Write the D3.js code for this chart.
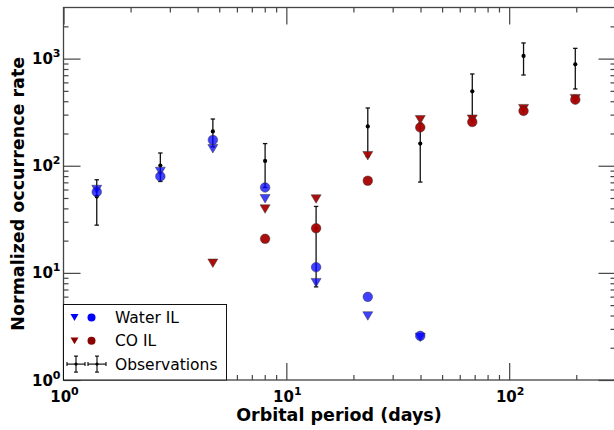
<!DOCTYPE html>
<html>
<head>
<meta charset="utf-8">
<script src="https://cdn.jsdelivr.net/npm/d3@7"></script>
<style>
    body { margin: 0; background: #fff; }
    svg { font-family: 'DejaVu Sans', sans-serif; }
</style>
</head>
<body>
<div id="chart"></div>
<script>
// values
const periods = [1.41, 2.72, 4.68, 8.03, 13.6, 23.2, 39.9, 68.3, 116, 198];
const obsRate = [51.6, 100.5, 209, 111, 26, 233, 161, 495, 1059, 885];
const obsLow = [27.9, 71.3, 150, 62.7, 7.4, 122, 70.4, 289, 703, 521];
const obsHigh = [74, 131.5, 273, 161, 41.7, 346, 250, 719, 1400, 1247];
const waterTri = [60, 88.5, 144, 49.2, 8.1, 3.96, 2.5, null, null, null];
const waterCirc = [57, 79.5, 174, 62.7, 11.3, 5.97, 2.58, null, null, null];
const coTri = [null, null, 12.3, 39.4, 48.9, 124, 269, 272, 341, 423];
const coCirc = [null, null, null, 20.8, 26.1, 72.4, 228, 256, 325, 414];
const xMajor = [1, 10, 100];
const yMajor = [1, 10, 100, 1000];
const legendLabels = ['Water IL', 'CO IL', 'Observations'];

const width = 614,
    height = 430;
const margin = { top: 7.5, right: -1.5, bottom: 50, left: 63.5 };

const svg = d3
    .select('#chart')
    .append('svg')
    .attr('width', width)
    .attr('height', height);

const x = d3
    .scaleLog()
    .domain([1, 300])
    .range([margin.left, width - margin.right]);
const y = d3
    .scaleLog()
    .domain([1, 3000])
    .range([height - margin.bottom, margin.top]);

const x0 = x.range()[0],
    x1 = x.range()[1],
    yb = y.range()[0],
    yt = y.range()[1];

const minorOf = (lo, hi) => {
    const out = [];
    for (let d = lo; d < hi; d *= 10) {
        for (let k = 2; k <= 9; k++) if (d * k < hi) out.push(d * k);
    }
    return out;
};
const xMinor = minorOf(1, 300);
const yMinor = minorOf(1, 3000);

// ticks (inward, on all four sides)
const tickColor = '#444';
const axisStyle = (g) => {
    g.select('.domain').remove();
    g.selectAll('line').attr('stroke', tickColor).attr('stroke-width', 1.2);
    g.selectAll('text').remove();
};
svg.append('g').attr('transform', `translate(0,${yb})`).call(d3.axisBottom(x).tickValues(xMajor).tickSize(-17)).call(axisStyle);
svg.append('g').attr('transform', `translate(0,${yb})`).call(d3.axisBottom(x).tickValues(xMinor).tickSize(-5)).call(axisStyle);
svg.append('g').attr('transform', `translate(0,${yt})`).call(d3.axisTop(x).tickValues(xMajor).tickSize(-17)).call(axisStyle);
svg.append('g').attr('transform', `translate(0,${yt})`).call(d3.axisTop(x).tickValues(xMinor).tickSize(-5)).call(axisStyle);
svg.append('g').attr('transform', `translate(${x0},0)`).call(d3.axisLeft(y).tickValues(yMajor).tickSize(-17)).call(axisStyle);
svg.append('g').attr('transform', `translate(${x0},0)`).call(d3.axisLeft(y).tickValues(yMinor).tickSize(-5)).call(axisStyle);
svg.append('g').attr('transform', `translate(${x1},0)`).call(d3.axisRight(y).tickValues(yMajor).tickSize(-17)).call(axisStyle);
svg.append('g').attr('transform', `translate(${x1},0)`).call(d3.axisRight(y).tickValues(yMinor).tickSize(-5)).call(axisStyle);

// frame
svg.append('rect')
    .attr('x', x0)
    .attr('y', yt)
    .attr('width', x1 - x0)
    .attr('height', yb - yt)
    .attr('fill', 'none')
    .attr('stroke', tickColor)
    .attr('stroke-width', 1.3);

// tick labels 10^n
const powLabel = (sel, v) => {
    sel.append('tspan').text('10');
    sel.append('tspan')
        .attr('font-size', 11)
        .attr('dy', -7)
        .text(Math.round(Math.log10(v)));
};
xMajor.forEach((v) => {
    svg.append('text')
        .attr('x', x(v) + 1)
        .attr('y', yb + 21.5)
        .attr('text-anchor', 'middle')
        .attr('font-size', 15)
        .attr('font-weight', 'bold')
        .call(powLabel, v);
});
yMajor.forEach((v) => {
    svg.append('text')
        .attr('x', x0 - 3)
        .attr('y', y(v) + 5.5)
        .attr('text-anchor', 'end')
        .attr('font-size', 15)
        .attr('font-weight', 'bold')
        .call(powLabel, v);
});

// axis titles
svg.append('text')
    .attr('x', 339)
    .attr('y', 421)
    .attr('text-anchor', 'middle')
    .attr('font-size', 17.5)
    .attr('font-weight', 'bold')
    .text('Orbital period (days)');
svg.append('text')
    .attr('transform', `translate(24,${(yt + yb) / 2}) rotate(-90)`)
    .attr('text-anchor', 'middle')
    .attr('font-size', 17.5)
    .attr('font-weight', 'bold')
    .text('Normalized occurrence rate');

const plot = svg.append('g');

// observations with error bars
const obs = periods.map((p, i) => ({ p, v: obsRate[i], lo: obsLow[i], hi: obsHigh[i] }));
const capW = 2.2;
obs.forEach((d) => {
    const g = plot.append('g').attr('stroke', '#111').attr('stroke-width', 1.3);
    g.append('line').attr('x1', x(d.p)).attr('x2', x(d.p)).attr('y1', y(d.lo)).attr('y2', y(d.hi));
    g.append('line').attr('x1', x(d.p) - capW).attr('x2', x(d.p) + capW).attr('y1', y(d.lo)).attr('y2', y(d.lo));
    g.append('line').attr('x1', x(d.p) - capW).attr('x2', x(d.p) + capW).attr('y1', y(d.hi)).attr('y2', y(d.hi));
    plot.append('circle').attr('cx', x(d.p)).attr('cy', y(d.v)).attr('r', 2.1).attr('fill', '#000');
});

const triPath = (cx, cy, s) => `M${cx - s},${cy - s * 0.85}L${cx + s},${cy - s * 0.85}L${cx},${cy + s * 0.85}Z`;

const drawSeries = (vals, kind, fill, op) => {
    const pts = periods.map((p, i) => ({ p, v: vals[i] })).filter((d) => d.v != null);
    const sel = plot.selectAll(null).data(pts).enter();
    const marks =
        kind === 'tri'
            ? sel.append('path').attr('d', (d) => triPath(x(d.p), y(d.v), 5))
            : sel
                  .append('circle')
                  .attr('cx', (d) => x(d.p))
                  .attr('cy', (d) => y(d.v))
                  .attr('r', 4.8);
    marks
        .attr('fill', fill)
        .attr('fill-opacity', op)
        .attr('stroke', '#333')
        .attr('stroke-opacity', 0.6)
        .attr('stroke-width', 0.8);
};
drawSeries(waterTri, 'tri', '#0000ff', 0.75);
drawSeries(waterCirc, 'circ', '#0000ff', 0.75);
drawSeries(coTri, 'tri', '#a80000', 0.95);
drawSeries(coCirc, 'circ', '#a80000', 0.95);

// legend
const lg = svg.append('g');
lg.append('rect')
    .attr('x', x0)
    .attr('y', 304.5)
    .attr('width', 163)
    .attr('height', yb - 304.5)
    .attr('fill', '#fff')
    .attr('stroke', '#111')
    .attr('stroke-width', 1);
const legendColors = ['#0000ff', '#8b0000'];
legendLabels.forEach((label, i) => {
    const cy = 317.5 + i * 23.3;
    if (i < 2) {
        lg.append('path').attr('d', triPath(74.5, cy, 4)).attr('fill', legendColors[i]);
        lg.append('circle').attr('cx', 91.5).attr('cy', cy).attr('r', 4).attr('fill', legendColors[i]);
    } else {
        const eg = lg.append('g').attr('stroke', '#000').attr('stroke-width', 1.1);
        [76, 97].forEach((cx) => {
            eg.append('line').attr('x1', cx - 9).attr('x2', cx + 9).attr('y1', cy).attr('y2', cy);
            eg.append('line').attr('x1', cx).attr('x2', cx).attr('y1', cy - 8).attr('y2', cy + 8);
            eg.append('line').attr('x1', cx - 2).attr('x2', cx + 2).attr('y1', cy - 8).attr('y2', cy - 8);
            eg.append('line').attr('x1', cx - 2).attr('x2', cx + 2).attr('y1', cy + 8).attr('y2', cy + 8);
            eg.append('line').attr('x1', cx - 9).attr('x2', cx - 9).attr('y1', cy - 2).attr('y2', cy + 2);
            eg.append('line').attr('x1', cx + 9).attr('x2', cx + 9).attr('y1', cy - 2).attr('y2', cy + 2);
            lg.append('circle').attr('cx', cx).attr('cy', cy).attr('r', 1.6).attr('fill', '#000');
        });
    }
    lg.append('text')
        .attr('x', 115)
        .attr('y', cy + 5.5)
        .attr('font-size', 15.5)
        .text(label);
});
</script>
</body>
</html>
